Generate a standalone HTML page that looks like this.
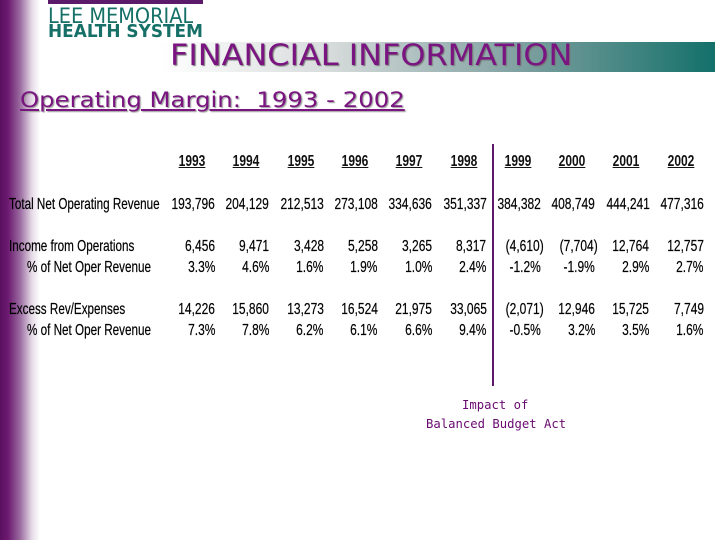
<!DOCTYPE html>
<html><head><meta charset="utf-8"><style>
body{margin:0;width:720px;height:540px;overflow:hidden;background:#fff;position:relative;font-family:"Liberation Sans",sans-serif}
#leftbar{position:absolute;left:0;top:0;width:40px;height:540px;background:linear-gradient(to right,#5a1060 0px,#6c1a70 8px,#9a6aa0 20px,#e6dbe8 32px,#fff 40px)}
#banner{position:absolute;left:160px;top:42px;width:555px;height:30px;background:linear-gradient(to right,#fff 0%,#d8dcdc 30%,#7fa0a0 65%,#13706a 100%)}
.t{position:absolute;white-space:nowrap}
.c{position:absolute;white-space:nowrap;font-size:16px;color:#000;transform:scaleX(0.75);transform-origin:right center;text-align:right;-webkit-text-stroke:0.2px #000}
.y{position:absolute;font-size:16px;font-weight:bold;color:#111;text-decoration:underline;transform:scaleX(0.75);text-align:center;width:50px}
.lab{position:absolute;font-size:16px;color:#000;white-space:nowrap;transform:scaleX(0.73);transform-origin:left center;-webkit-text-stroke:0.2px #000}
</style></head><body>
<div id="leftbar"></div>
<div style="position:absolute;left:48px;top:0;width:155px;height:4px;background:#5c1a6a"></div>
<div class="t" style="left:48px;top:4px;font:21px 'DejaVu Sans',sans-serif;color:#167068;transform:scaleX(0.92);transform-origin:left">LEE MEMORIAL</div>
<div class="t" style="left:48px;top:21px;font:bold 18px 'DejaVu Sans',sans-serif;color:#167068;transform:scaleX(0.94);transform-origin:left">HEALTH SYSTEM</div>
<div id="banner"></div>
<div class="t" style="left:170px;top:38px;font:29px 'DejaVu Sans',sans-serif;color:#7a1480;text-shadow:1px 1px 1px #777;transform:scaleX(1.1);transform-origin:left">FINANCIAL INFORMATION</div>
<div class="t" style="left:20px;top:88px;font:21px 'DejaVu Sans',sans-serif;color:#7a1480;text-decoration:underline;text-shadow:1px 1px 1px #999;transform:scaleX(1.16);transform-origin:left">Operating Margin:&nbsp; 1993 - 2002</div>
<div style="position:absolute;left:492px;top:144px;width:1.5px;height:242px;background:#5c1a6a"></div>
<div class="t" style="left:462px;top:397px;font:12.5px 'DejaVu Sans Mono',monospace;color:#6a0a70;transform:scaleX(0.98);transform-origin:left">Impact of</div>
<div class="t" style="left:426px;top:416px;font:12.5px 'DejaVu Sans Mono',monospace;color:#6a0a70;transform:scaleX(0.98);transform-origin:left">Balanced Budget Act</div>
<div id="tbl"></div>
<script>
const years=["1993","1994","1995","1996","1997","1998","1999","2000","2001","2002"];
const revenue=["193,796","204,129","212,513","273,108","334,636","351,337","384,382","408,749","444,241","477,316"];
const income=["6,456","9,471","3,428","5,258","3,265","8,317","(4,610)","(7,704)","12,764","12,757"];
const incomePct=["3.3%","4.6%","1.6%","1.9%","1.0%","2.4%","-1.2%","-1.9%","2.9%","2.7%"];
const excess=["14,226","15,860","13,273","16,524","21,975","33,065","(2,071)","12,946","15,725","7,749"];
const excessPct=["7.3%","7.8%","6.2%","6.1%","6.6%","9.4%","-0.5%","3.2%","3.5%","1.6%"];
const rowLabels=["Total Net Operating Revenue","Income from Operations","   % of Net Oper Revenue","Excess Rev/Expenses","   % of Net Oper Revenue"];
const rows=[revenue,income,incomePct,excess,excessPct];
const rowY=[196,238,259,301,322];
const tbl=document.getElementById('tbl');
const colRight=i=>215+i*54.3;
years.forEach((y,i)=>{const d=document.createElement('div');d.className='y';


d.textContent=y;d.style.left=(colRight(i)-48)+'px';d.style.top='153px';tbl.appendChild(d);});
rows.forEach((r,ri)=>{const l=document.createElement('div');l.className='lab';


l.textContent=rowLabels[ri].trim();l.style.left=(rowLabels[ri].startsWith(' ')?27:9)+'px';l.style.top=rowY[ri]+'px';tbl.appendChild(l);
r.forEach((v,i)=>{const c=document.createElement('div');c.className='c';


c.textContent=v;c.style.right=(720-colRight(i)-(v.endsWith(')')?3:0))+'px';c.style.top=rowY[ri]+'px';tbl.appendChild(c);});});
</script>
</body></html>
